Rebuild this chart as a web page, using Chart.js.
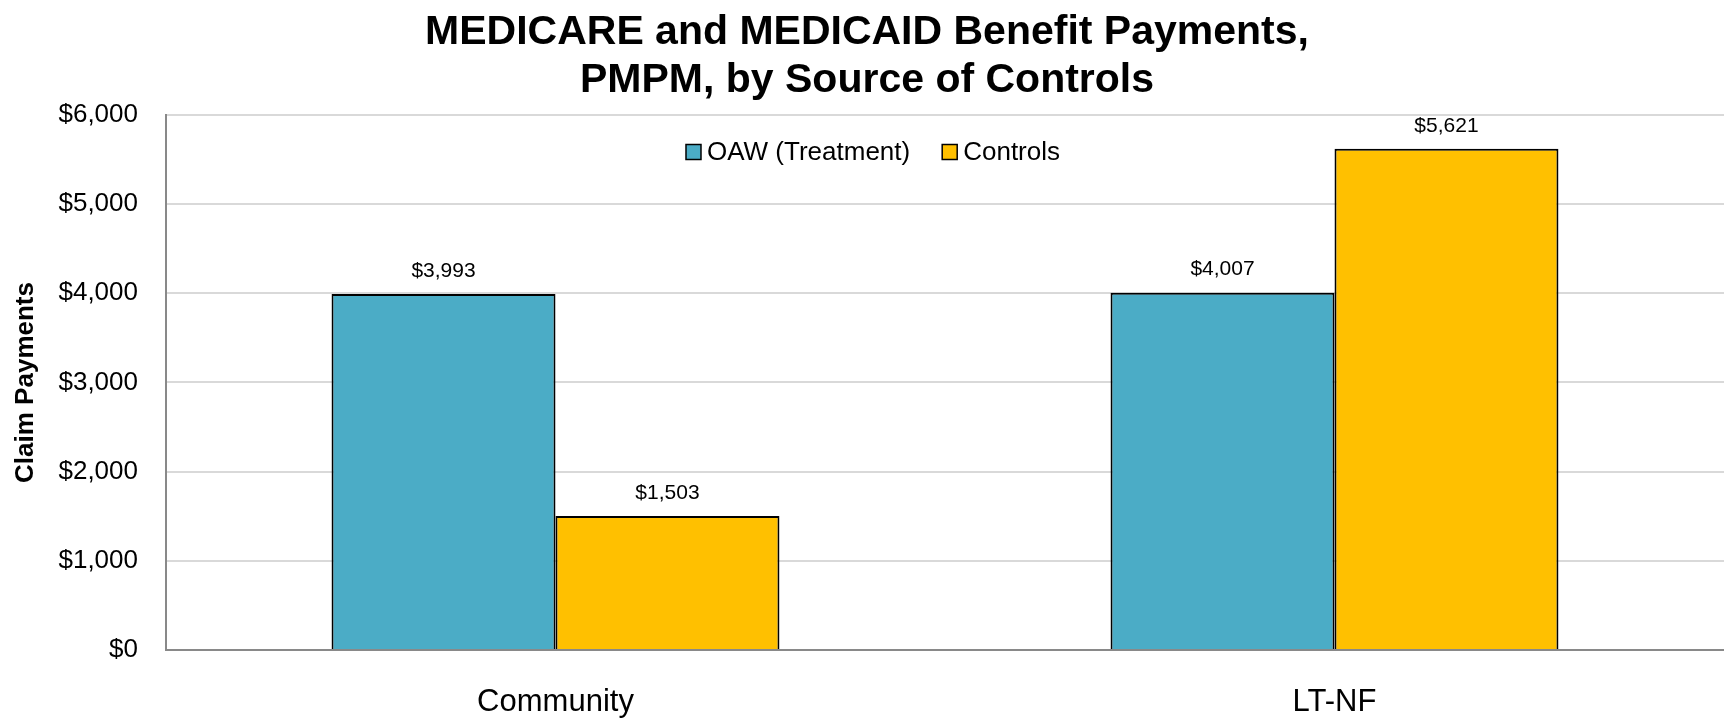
<!DOCTYPE html>
<html>
<head>
<meta charset="utf-8">
<title>MEDICARE and MEDICAID Benefit Payments</title>
<script src="https://cdn.jsdelivr.net/npm/chart.js@4.4.1/dist/chart.umd.min.js"></script>
<style>
    html, body { margin: 0; padding: 0; background: #ffffff; }
    #wrap { width: 1724px; height: 720px; }
</style>
</head>
<body>
<div id="wrap"><canvas id="grafico" width="1724" height="720"></canvas></div>
<script>
// Dados do gráfico
const categories = ['Community', 'LT-NF'];
const seriesNames = ['OAW (Treatment)', 'Controls'];
const oawValues = [3993, 4007];
const controlValues = [1503, 5621];
const seriesColors = ['#4BACC6', '#FFC000'];
const titleLines = ['MEDICARE and MEDICAID Benefit Payments,', 'PMPM, by Source of Controls'];
const yAxisTitle = 'Claim Payments';
const yMin = 0;
const yMax = 6000;
const yStep = 1000;

const FONT = '"Liberation Sans", Arial, sans-serif';

function formatDollar(v) {
    return '$' + Number(v).toLocaleString('en-US');
}

// Rótulos de valor acima das barras
const valueLabels = {
    id: 'valueLabels',
    afterDatasetsDraw(chart) {
        const ctx = chart.ctx;
        ctx.save();
        ctx.font = '21px ' + FONT;
        ctx.fillStyle = '#000000';
        ctx.textAlign = 'center';
        ctx.textBaseline = 'middle';
        chart.data.datasets.forEach((ds, i) => {
            const meta = chart.getDatasetMeta(i);
            meta.data.forEach((bar, j) => {
                ctx.fillText(formatDollar(ds.data[j]), bar.x, bar.y - 23);
            });
        });
        ctx.restore();
    }
};

// Legenda dentro da área do gráfico (como no Excel)
const innerLegend = {
    id: 'innerLegend',
    afterDraw(chart) {
        const ctx = chart.ctx;
        const box = 15, gapBox = 6, gapItem = 32;
        ctx.save();
        ctx.font = '26px ' + FONT;
        const items = chart.data.datasets.map(ds => ({
            text: ds.label,
            color: ds.backgroundColor,
            w: box + gapBox + ctx.measureText(ds.label).width
        }));
        const total = items.reduce((a, it) => a + it.w, 0) + gapItem * (items.length - 1);
        let x = chart.width / 2 + 11 - total / 2;
        const y = 152;
        items.forEach(it => {
            ctx.fillStyle = it.color;
            ctx.fillRect(x, y - box / 2, box, box);
            ctx.strokeStyle = '#000000';
            ctx.lineWidth = 1.5;
            ctx.strokeRect(x, y - box / 2, box, box);
            ctx.fillStyle = '#000000';
            ctx.textAlign = 'left';
            ctx.textBaseline = 'middle';
            ctx.fillText(it.text, x + box + gapBox, y + 1);
            x += it.w + gapItem;
        });
        ctx.restore();
    }
};

new Chart(document.getElementById('grafico').getContext('2d'), {
    type: 'bar',
    data: {
        labels: categories,
        datasets: [
            {
                label: seriesNames[0],
                data: oawValues,
                backgroundColor: seriesColors[0],
                borderColor: '#000000',
                borderWidth: 2,
                categoryPercentage: 0.575,
                barPercentage: 1.0
            },
            {
                label: seriesNames[1],
                data: controlValues,
                backgroundColor: seriesColors[1],
                borderColor: '#000000',
                borderWidth: 2,
                categoryPercentage: 0.575,
                barPercentage: 1.0
            }
        ]
    },
    options: {
        responsive: false,
        animation: false,
        devicePixelRatio: 1,
        layout: {
            padding: { left: 10, right: 0, top: 0, bottom: 0 }
        },
        plugins: {
            legend: { display: false },
            tooltip: { enabled: false },
            title: {
                display: true,
                text: titleLines,
                color: '#000000',
                font: { family: FONT, size: 41, weight: 'bold', lineHeight: 1.17 },
                padding: { top: 9, bottom: 10 }
            }
        },
        scales: {
            x: {
                grid: { display: false, drawTicks: false },
                border: { display: true, color: '#898989', width: 2 },
                ticks: {
                    color: '#000000',
                    font: { family: FONT, size: 31 },
                    padding: 34
                },
                afterFit: scale => { scale.height = 70; }
            },
            y: {
                min: yMin,
                max: yMax,
                ticks: {
                    stepSize: yStep,
                    color: '#000000',
                    font: { family: FONT, size: 26 },
                    padding: 28,
                    callback: v => formatDollar(v)
                },
                grid: { color: '#d9d9d9', lineWidth: 2, drawTicks: false },
                border: { display: true, color: '#898989', width: 2 },
                title: {
                    display: true,
                    text: yAxisTitle,
                    color: '#000000',
                    font: { family: FONT, size: 26, weight: 'bold' },
                    padding: { top: 0, bottom: 16 }
                },
                afterFit: scale => { scale.width = 156; }
            }
        }
    },
    plugins: [valueLabels, innerLegend]
});
</script>
</body>
</html>
